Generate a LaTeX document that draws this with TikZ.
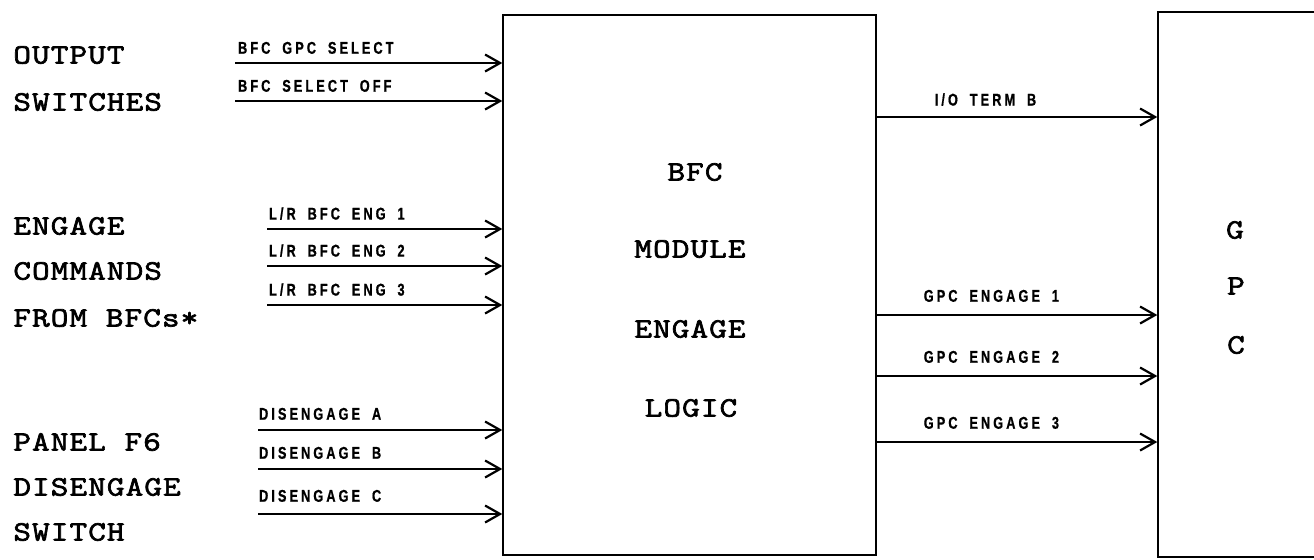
\documentclass[tikz,border=0pt]{standalone}
\usepackage{fontspec}
\usetikzlibrary{arrows.meta}
\newfontfamily\bigmono[FakeBold=2.5,FakeStretch=1.22,LetterSpace=4]{Latin Modern Mono}
\newfontfamily\labsans[FakeStretch=0.75,LetterSpace=18,WordSpace=1.8,FakeBold=0.8]{Liberation Sans Bold}
\begin{document}
\begin{tikzpicture}[x=0.5pt,y=-0.5pt,
  box/.style={draw,line width=0.7pt,inner sep=0pt},
  sig/.style={line width=1.1pt,-{Straight Barb[length=7.5pt,width=8.5pt,line width=1.1pt]}},
  lab/.style={font=\labsans\fontsize{8.5}{9}\selectfont,inner sep=0pt,anchor=south west},
  big/.style={font=\bigmono\fontsize{14}{16}\selectfont,inner sep=0pt,anchor=west},
  ctr/.style={font=\bigmono\fontsize{14}{16}\selectfont,inner sep=0pt}]
\useasboundingbox (0,0) rectangle (1314,559);
\clip (0,0) rectangle (1314,559);
% boxes
\node[box,minimum width=186.5pt,minimum height=270pt] (bfc) at (689.5,285) {};
\node[box,minimum width=90pt,minimum height=272.5pt] (gpc) at (1248,284.5) {};
% left texts
\node[big] (t1) at (13,55) {OUTPUT};
\node[big] (t2) at (13,102) {SWITCHES};
\node[big] (t3) at (13,226) {ENGAGE};
\node[big] (t4) at (13,271) {COMMANDS};
\node[big] (t5) at (13,318) {FROM BFCs*};
\node[big] (t6) at (13,442) {PANEL F6};
\node[big] (t7) at (13,487) {DISENGAGE};
\node[big] (t8) at (13,532) {SWITCH};
% center texts
\node[ctr] (c1) at (695,172) {BFC};
\node[ctr] (c2) at (690,249) {MODULE};
\node[ctr] (c3) at (690,329) {ENGAGE};
\node[ctr] (c4) at (691,408) {LOGIC};
\node[ctr] (g1) at (1235,230) {G};
\node[ctr] (g2) at (1236,286) {P};
\node[ctr] (g3) at (1236,345) {C};
% input coordinates
\coordinate (i1) at (235,63);
\coordinate (i2) at (235,101);
\coordinate (i3) at (267,229);
\coordinate (i4) at (267,266);
\coordinate (i5) at (267,305);
\coordinate (i6) at (258,430);
\coordinate (i7) at (258,469);
\coordinate (i8) at (258,514);
\draw[sig] (i1) -- (i1 -| bfc.west) node[lab,pos=0,xshift=1pt,yshift=4pt] {BFC GPC SELECT};
\draw[sig] (i2) -- (i2 -| bfc.west) node[lab,pos=0,xshift=1pt,yshift=4pt] {BFC SELECT OFF};
\draw[sig] (i3) -- (i3 -| bfc.west) node[lab,pos=0,xshift=0.5pt,yshift=4pt] {L/R BFC ENG 1};
\draw[sig] (i4) -- (i4 -| bfc.west) node[lab,pos=0,xshift=0.5pt,yshift=4pt] {L/R BFC ENG 2};
\draw[sig] (i5) -- (i5 -| bfc.west) node[lab,pos=0,xshift=0.5pt,yshift=4pt] {L/R BFC ENG 3};
\draw[sig] (i6) -- (i6 -| bfc.west) node[lab,pos=0,yshift=4.5pt] {DISENGAGE A};
\draw[sig] (i7) -- (i7 -| bfc.west) node[lab,pos=0,yshift=4.5pt] {DISENGAGE B};
\draw[sig] (i8) -- (i8 -| bfc.west) node[lab,pos=0,yshift=5.5pt] {DISENGAGE C};
% outputs
\coordinate (o1) at (876,117);
\coordinate (o2) at (876,315);
\coordinate (o3) at (876,376);
\coordinate (o4) at (876,442);
\draw[sig] (o1 -| bfc.east) -- (o1 -| gpc.west) node[lab,pos=0,xshift=28.5pt,yshift=5pt] {I/O TERM B};
\draw[sig] (o2 -| bfc.east) -- (o2 -| gpc.west) node[lab,pos=0,xshift=23pt,yshift=6pt] {GPC ENGAGE 1};
\draw[sig] (o3 -| bfc.east) -- (o3 -| gpc.west) node[lab,pos=0,xshift=23pt,yshift=6pt] {GPC ENGAGE 2};
\draw[sig] (o4 -| bfc.east) -- (o4 -| gpc.west) node[lab,pos=0,xshift=23pt,yshift=6pt] {GPC ENGAGE 3};
\end{tikzpicture}
\end{document}
